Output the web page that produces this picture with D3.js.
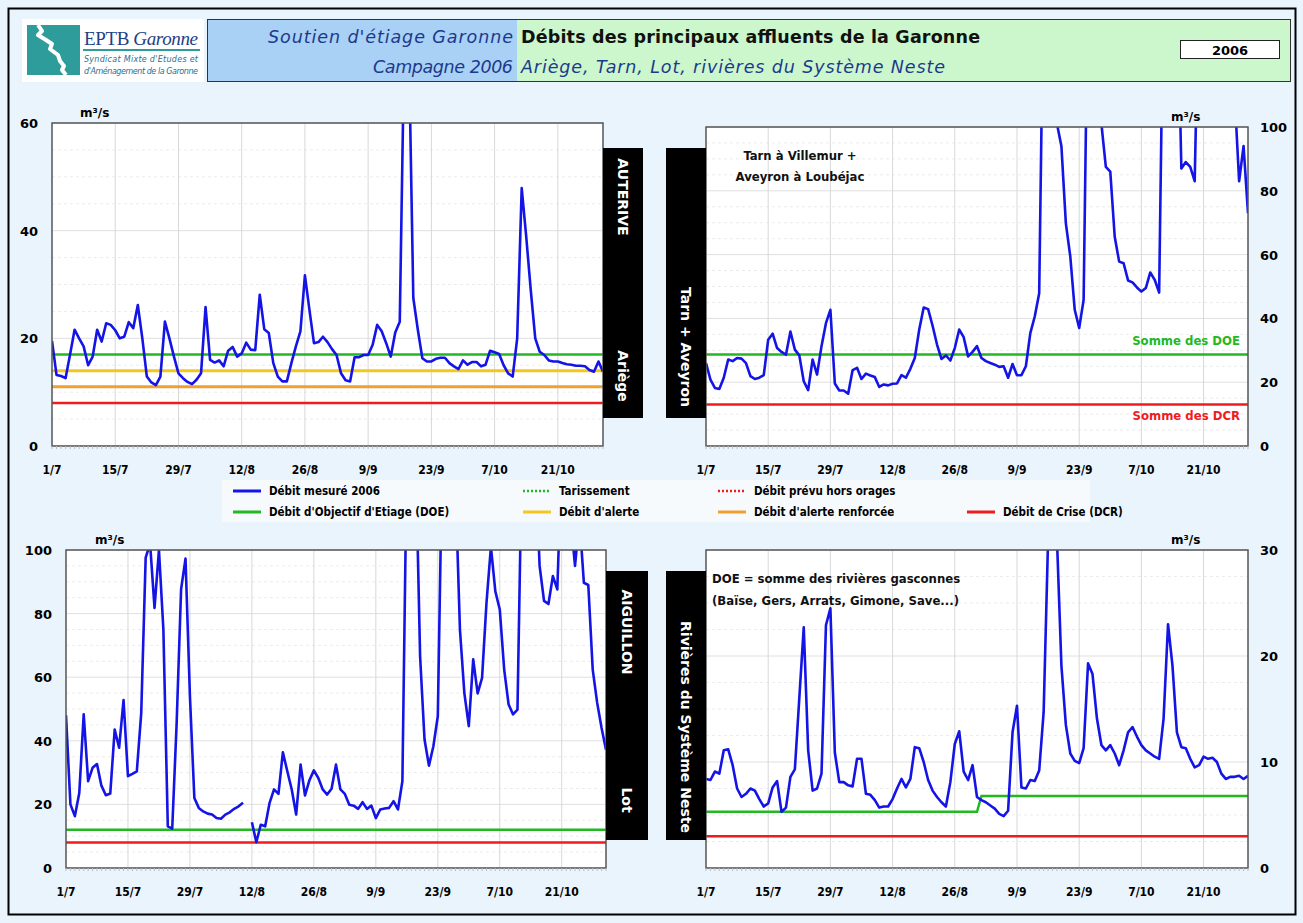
<!DOCTYPE html>
<html>
<head>
<meta charset="utf-8">
<script src="https://cdnjs.cloudflare.com/ajax/libs/d3/7.8.5/d3.min.js"></script>
<style>
  body { margin: 0; background: #eaf4fc; }
  svg { display: block; }
  text { font-family: "DejaVu Sans", Verdana, sans-serif; }
</style>
</head>
<body>
<svg id="chart"></svg>
<script>
// --- data (daily values, 1/7 -> 31/10/2006) ---
const tickDays = [0, 14, 28, 42, 56, 70, 84, 98, 112];
const tickLabels = ["1/7", "15/7", "29/7", "12/8", "26/8", "9/9", "23/9", "7/10", "21/10"];

const ariege = [
  19.5, 13.2, 13.0, 12.6, 17, 21.6, 20, 18.5, 15, 16.6,
  21.6, 19.4, 22.8, 22.5, 21.5, 20, 20.3, 23, 21.9, 26.2,
  20, 12.9, 11.8, 11.3, 12.9, 23.1, 20, 16.6, 13.5, 12.6,
  11.9, 11.5, 12.3, 13.5, 25.8, 16, 15.5, 15.9, 14.8, 17.7,
  18.4, 16.6, 17.2, 19.2, 17.9, 17.8, 28.1, 21.7, 21, 15.4,
  12.9, 12, 12, 15.4, 18.5, 21.3, 31.7, 25.3, 19.1, 19.3,
  20.3, 19.3, 18, 16.9, 13.5, 12.2, 12, 16.5, 16.5, 16.9,
  16.9, 18.8, 22.5, 21.3, 19.1, 16.6, 21.1, 23.1, 75, 75,
  27.5, 21.6, 16.3, 15.7, 15.7, 16.2, 16.4, 16.4, 15.4, 14.8,
  14.3, 15.9, 15.1, 15.6, 15.6, 14.8, 15.1, 17.7, 17.4, 17.1,
  15, 13.5, 12.9, 20, 47.9, 38.9, 29, 20, 17.5, 16.9,
  15.9, 15.7, 15.7, 15.4, 15.2, 15.1, 14.9, 14.9, 14.8, 14.1,
  13.8, 15.7, 13.8
];
const tarn = [
  26, 20.8, 18.2, 17.9, 21.4, 27.1, 26.6, 27.6, 27.4, 26,
  21.9, 21, 21.4, 22.2, 33.3, 35.2, 30.7, 29.5, 28.6, 35.9,
  30.2, 28.4, 20.3, 17.5, 27.1, 22.4, 31.3, 38.5, 42.7, 19.6,
  17.4, 17.4, 16.4, 23.8, 24.5, 21, 22.7, 22.1, 21.6, 18.5,
  19.3, 19, 19.5, 19.6, 22.2, 21.4, 24.2, 27.6, 36.5, 43.4,
  42.9, 37.7, 31.8, 27.3, 28.4, 26.8, 30.7, 36.5, 34.1, 28.1,
  29.5, 31.3, 27.6, 26.6, 26, 25.5, 24.8, 25, 21.4, 25.7,
  22.2, 22.2, 25, 35.4, 40.6, 47.9, 150, 150, 150, 101,
  94, 69.8, 59.4, 42.7, 37, 45.8, 150, 150, 150, 101,
  87.5, 86, 65.6, 57.8, 57.3, 51.9, 51.3, 49.7, 48.4, 49.5,
  54.4, 52.1, 48.1, 150, 150, 150, 150, 87, 89, 87.5,
  83, 150, 150, 150, 150, 150, 150, 150, 150, 110,
  83, 94, 73
];
const lot = [
  48, 20, 16.3, 23.6, 48.3, 27.3, 31.5, 32.7, 25.9, 22.9,
  23.4, 43.5, 37.8, 52.8, 28.9, 29.6, 30.4, 48.8, 97.6, 102,
  81.8, 100, 75, 13.1, 12.4, 45.6, 87.6, 97.3, 54, 22,
  18.9, 17.8, 17.1, 16.8, 15.7, 15.5, 16.8, 17.5, 18.6, 19.4,
  20.5, null, 14.4, 8.1, 13.6, 13.1, 20.5, 24.7, 23.3, 36.4,
  30.4, 24.7, 16.8, 32.5, 22.8, 27.6, 30.7, 28.3, 24.7, 23.1,
  24.9, 32.5, 24.7, 23.3, 19.9, 19.6, 18.6, 20.7, 18.6, 19.6,
  15.7, 18.4, 18.7, 18.9, 21, 18.4, 27.3, 130, 150, 130,
  66.6, 40.4, 32.2, 38.3, 47.7, 130, 150, 150, 120, 75,
  55, 44.6, 65.6, 54.9, 59.8, 83.4, 101, 87, 81.3, 62.4,
  51.4, 48.3, 49.8, 130, 150, 150, 130, 95, 84, 83,
  91.8, 87.6, 130, 150, 110, 95, 110, 89.7, 89, 62.4,
  52, 44, 37.2
];
const neste = [
  8.4, 8.3, 9.1, 8.9, 11.1, 11.2, 9.7, 7.5, 6.7, 7,
  7.5, 7.3, 6.5, 5.8, 6.1, 7.6, 8.2, 5.3, 5.7, 8.6,
  9.3, 16, 22.7, 11.1, 7.3, 7.5, 8.9, 22.9, 24.5, 10.9,
  8.1, 8.1, 7.8, 7.7, 10.3, 10.3, 7, 6.9, 6.4, 5.7,
  5.8, 5.8, 6.5, 7.5, 8.4, 7.6, 8.4, 11.4, 11.3, 10,
  8.3, 7.3, 6.7, 6.2, 5.8, 8.1, 11.7, 12.9, 9.1, 8.3,
  9.7, 6.7, 6.4, 6.2, 5.9, 5.6, 5.1, 4.9, 5.4, 12.8,
  15.3, 7.6, 7.5, 8.3, 8.2, 9.2, 14.7, 31, 40, 31,
  19.1, 13.5, 10.8, 10.1, 9.9, 11.3, 19.3, 18.3, 14.1, 11.6,
  11.1, 11.6, 10.8, 9.7, 11.1, 12.8, 13.3, 12.4, 11.6, 11.1,
  10.8, 10.5, 10.3, 14.1, 23, 19.1, 12.8, 11.4, 11.3, 10.3,
  9.5, 9.7, 10.5, 10.3, 10.4, 10, 8.9, 8.4, 8.6, 8.6,
  8.7, 8.4, 8.7
];

// thresholds
const ariegeThresholds = [
  { key: "doe", value: 17 },
  { key: "alerte", value: 14 },
  { key: "renforcee", value: 11 },
  { key: "dcr", value: 8 }
];
const tarnThresholds = [{ key: "doe", value: 28.7 }, { key: "dcr", value: 13 }];
const lotThresholds = [{ key: "doe", value: 12 }, { key: "dcr", value: 8 }];
const nesteThresholds = [{ key: "dcr", value: 3.0 }];
const nesteDoeDays = [0, 61, 62, 122];
const nesteDoeValues = [5.3, 5.3, 6.8, 6.8];

const legendRow1 = [
  { key: "mesure", label: "Débit mesuré 2006" },
  { key: "tarissement", label: "Tarissement" },
  { key: "orages", label: "Débit prévu hors orages" }
];
const legendRow2 = [
  { key: "doe", label: "Débit d'Objectif d'Etiage (DOE)" },
  { key: "alerte", label: "Débit d'alerte" },
  { key: "renforcee", label: "Débit d'alerte renforcée" },
  { key: "dcr", label: "Débit de Crise (DCR)" }
];

const colors = {
  mesure: "#1414e6", doe: "#22b822", alerte: "#f5c71a", renforcee: "#f0a030",
  dcr: "#ee1c1c", tarissement: "#22b822", orages: "#ee1c1c"
};

// --- layout ---
const W = 1303, H = 923;
const svg = d3.select("#chart").attr("width", W).attr("height", H);

svg.append("rect").attr("x", 0).attr("y", 0).attr("width", W).attr("height", H).attr("fill", "#eaf4fc");
svg.append("rect").attr("x", 8.5).attr("y", 8.5).attr("width", 1287).attr("height", 906)
  .attr("fill", "none").attr("stroke", "#000").attr("stroke-width", 2);

// header
const logo = svg.append("g");
logo.append("rect").attr("x", 22).attr("y", 19).attr("width", 182).attr("height", 63).attr("fill", "#fff");
logo.append("rect").attr("x", 27).attr("y", 25).attr("width", 53).attr("height", 50).attr("fill", "#2f9c9c");
logo.append("path")
  .attr("d", "M38,25 L42,31 L38,35 L46,40 L52,44 L50,49 L58,55 L60,61 L64,66 L62,70 L66,75")
  .attr("fill", "none").attr("stroke", "#fff").attr("stroke-width", 4).attr("stroke-linejoin", "round");
logo.append("text").attr("x", 84).attr("y", 45).attr("textLength", 114)
  .style("font-family", "'Liberation Serif', serif").style("font-size", "19px").attr("fill", "#223f85")
  .text("EPTB ")
  .append("tspan").style("font-style", "italic").text("Garonne");
logo.append("rect").attr("x", 83).attr("y", 49).attr("width", 117).attr("height", 2).attr("fill", "#2f9c9c");
logo.append("text").attr("x", 84).attr("y", 62).attr("textLength", 114)
  .style("font-size", "8px").style("font-style", "italic").attr("fill", "#2a6f8f")
  .text("Syndicat Mixte d'Etudes et");
logo.append("text").attr("x", 84).attr("y", 74).attr("textLength", 114)
  .style("font-size", "8px").style("font-style", "italic").attr("fill", "#2a6f8f")
  .text("d'Aménagement de la Garonne");

svg.append("rect").attr("x", 207.5).attr("y", 19.5).attr("width", 309).attr("height", 62)
  .attr("fill", "#a9d0f5").attr("stroke", "#333");
svg.append("rect").attr("x", 516.5).attr("y", 19.5).attr("width", 774).attr("height", 62)
  .attr("fill", "#ccf7cc").attr("stroke", "#333");
svg.append("line").attr("x1", 516.5).attr("x2", 516.5).attr("y1", 20).attr("y2", 81)
  .attr("stroke", "#a9d0f5");

svg.append("text").attr("x", 268).attr("y", 43).attr("textLength", 245)
  .style("font-size", "17.5px").style("font-style", "italic").attr("fill", "#1c3a8c")
  .text("Soutien d'étiage Garonne");
svg.append("text").attr("x", 373).attr("y", 73).attr("textLength", 140)
  .style("font-size", "17.5px").style("font-style", "italic").attr("fill", "#1c3a8c")
  .text("Campagne 2006");
svg.append("text").attr("x", 521).attr("y", 43).attr("textLength", 459)
  .style("font-size", "17.5px").style("font-weight", "bold").attr("fill", "#111")
  .text("Débits des principaux affluents de la Garonne");
svg.append("text").attr("x", 521).attr("y", 73).attr("textLength", 424)
  .style("font-size", "17.5px").style("font-style", "italic").attr("fill", "#1c3a8c")
  .text("Ariège, Tarn, Lot, rivières du Système Neste");
svg.append("rect").attr("x", 1180.5).attr("y", 40.5).attr("width", 99).attr("height", 18)
  .attr("fill", "#fff").attr("stroke", "#222");
svg.append("text").attr("x", 1230).attr("y", 54.5).attr("text-anchor", "middle")
  .style("font-size", "13px").style("font-weight", "bold").text("2006");

// --- panels ---
function drawPanel(cfg) {
  const g = svg.append("g");
  const x = d3.scaleLinear().domain([0, 122]).range([cfg.x0, cfg.x1]);
  const y = d3.scaleLinear().domain([0, cfg.ymax]).range([cfg.y1, cfg.y0]);
  const clipId = "clip" + cfg.id;

  svg.append("clipPath").attr("id", clipId)
    .append("rect").attr("x", cfg.x0).attr("y", cfg.y0)
    .attr("width", cfg.x1 - cfg.x0).attr("height", cfg.y1 - cfg.y0);

  g.append("rect").attr("x", cfg.x0).attr("y", cfg.y0)
    .attr("width", cfg.x1 - cfg.x0).attr("height", cfg.y1 - cfg.y0).attr("fill", "#fff");

  // grid
  const minor = d3.range(0, cfg.ymax + 0.001, cfg.ystep / 4).filter(v => v % cfg.ystep !== 0);
  g.selectAll(".hminor").data(minor).join("line")
    .attr("x1", cfg.x0).attr("x2", cfg.x1).attr("y1", d => y(d)).attr("y2", d => y(d))
    .attr("stroke", "#ececec").attr("stroke-dasharray", "3,3");
  g.selectAll(".hmajor").data(y.ticks(cfg.ymax / cfg.ystep)).join("line")
    .attr("x1", cfg.x0).attr("x2", cfg.x1).attr("y1", d => y(d)).attr("y2", d => y(d))
    .attr("stroke", "#e0e0e0");
  g.selectAll(".vgrid").data(tickDays.slice(1)).join("line")
    .attr("x1", d => x(d)).attr("x2", d => x(d)).attr("y1", cfg.y0).attr("y2", cfg.y1)
    .attr("stroke", "#d8d8d8");

  // thresholds
  g.selectAll(".thr").data(cfg.thresholds).join("line")
    .attr("x1", cfg.x0).attr("x2", cfg.x1)
    .attr("y1", d => y(d.value)).attr("y2", d => y(d.value))
    .attr("stroke", d => colors[d.key])
    .attr("stroke-width", d => (d.key === "alerte" || d.key === "renforcee") ? 3 : 2.5);

  if (cfg.doeSteps) {
    const pts = cfg.doeSteps.days.map((d, i) => [d, cfg.doeSteps.values[i]]);
    g.append("path").datum(pts)
      .attr("d", d3.line().x(d => x(d[0])).y(d => y(d[1])))
      .attr("fill", "none").attr("stroke", colors.doe).attr("stroke-width", 2.5);
  }

  // measured flow
  const line = d3.line()
    .defined(d => d != null)
    .x((d, i) => x(i))
    .y(d => y(d));
  g.append("path").datum(cfg.values)
    .attr("clip-path", `url(#${clipId})`)
    .attr("d", line)
    .attr("fill", "none").attr("stroke", colors.mesure)
    .attr("stroke-width", 2.6).attr("stroke-linejoin", "round");

  // frame
  g.append("rect").attr("x", cfg.x0).attr("y", cfg.y0)
    .attr("width", cfg.x1 - cfg.x0).attr("height", cfg.y1 - cfg.y0)
    .attr("fill", "none").attr("stroke", "#555").attr("stroke-width", 1.5);

  // day ticks
  g.selectAll(".dtick").data(d3.range(0, 123)).join("line")
    .attr("x1", d => x(d)).attr("x2", d => x(d)).attr("y1", cfg.y1).attr("y2", cfg.y1 + 3)
    .attr("stroke", "#bbb");

  // x labels
  g.selectAll(".xl").data(tickDays).join("text")
    .attr("x", d => x(d)).attr("y", cfg.y1 + 28).attr("text-anchor", "middle")
    .style("font-family", "'DejaVu Sans Condensed', 'DejaVu Sans', sans-serif")
    .style("font-size", "12px").style("font-weight", "bold")
    .text((d, i) => tickLabels[i]);

  // y labels
  const right = cfg.axis === "right";
  g.selectAll(".yl").data(y.ticks(cfg.ymax / cfg.ystep)).join("text")
    .attr("x", right ? cfg.x1 + 12 : cfg.x0 - 14)
    .attr("y", d => y(d) + 5)
    .attr("text-anchor", right ? "start" : "end")
    .style("font-size", "13px").style("font-weight", "bold")
    .text(d => d);

  g.append("text").attr("x", cfg.unitX).attr("y", cfg.y0 - 6)
    .style("font-size", "12px").style("font-weight", "bold").text("m³/s");

  // black label box
  const b = cfg.box;
  g.append("rect").attr("x", b.x).attr("y", b.y0).attr("width", b.w).attr("height", b.y1 - b.y0).attr("fill", "#000");
  b.labels.forEach(l => {
    g.append("text").attr("transform", `translate(${b.x + b.w / 2},${l.cy}) rotate(90)`)
      .attr("text-anchor", "middle").attr("dy", "0.36em")
      .style("font-size", "14px").style("font-weight", "bold").attr("fill", "#fff")
      .text(l.text);
  });

  (cfg.notes || []).forEach(n => {
    g.append("text").attr("x", n.x).attr("y", n.y).attr("text-anchor", n.anchor || "start")
      .style("font-family", "'DejaVu Sans Condensed', 'DejaVu Sans', sans-serif")
      .style("font-size", "13px").style("font-weight", "bold")
      .attr("fill", n.color || "#111").text(n.text);
  });
}

drawPanel({
  id: 1, x0: 52, x1: 603, y0: 123, y1: 446, ymax: 60, ystep: 20, axis: "left",
  values: ariege, thresholds: ariegeThresholds, unitX: 80,
  box: { x: 603, w: 40, y0: 148, y1: 418, labels: [{ text: "AUTERIVE", cy: 197 }, { text: "Ariège", cy: 376 }] }
});
drawPanel({
  id: 2, x0: 706, x1: 1248, y0: 127, y1: 446, ymax: 100, ystep: 20, axis: "right",
  values: tarn, thresholds: tarnThresholds, unitX: 1171,
  box: { x: 666, w: 40, y0: 148, y1: 418, labels: [{ text: "Tarn + Aveyron", cy: 347 }] },
  notes: [
    { x: 800, y: 160, anchor: "middle", text: "Tarn à Villemur +" },
    { x: 800, y: 181, anchor: "middle", text: "Aveyron à Loubéjac" },
    { x: 1240, y: 345, anchor: "end", text: "Somme des DOE", color: "#22b822" },
    { x: 1240, y: 420, anchor: "end", text: "Somme des DCR", color: "#ee1c1c" }
  ]
});
drawPanel({
  id: 3, x0: 66, x1: 606, y0: 550, y1: 868, ymax: 100, ystep: 20, axis: "left",
  values: lot, thresholds: lotThresholds, unitX: 95,
  box: { x: 606, w: 42, y0: 571, y1: 840, labels: [{ text: "AIGUILLON", cy: 632 }, { text: "Lot", cy: 800 }] }
});
drawPanel({
  id: 4, x0: 706, x1: 1248, y0: 550, y1: 868, ymax: 30, ystep: 10, axis: "right",
  values: neste, thresholds: nesteThresholds, unitX: 1171,
  doeSteps: { days: nesteDoeDays, values: nesteDoeValues },
  box: { x: 666, w: 40, y0: 571, y1: 840, labels: [{ text: "Rivières du Système Neste", cy: 727 }] },
  notes: [
    { x: 712, y: 583, text: "DOE = somme des rivières gasconnes" },
    { x: 712, y: 605, text: "(Baïse, Gers, Arrats, Gimone, Save...)" }
  ]
});

// --- legend ---
const leg = svg.append("g");
leg.append("rect").attr("x", 222).attr("y", 480).attr("width", 868).attr("height", 42).attr("fill", "#f6fafd");
const colX = [233, 523, 718, 967];
function legendRow(items, yy) {
  items.forEach((it, i) => {
    const dotted = it.key === "tarissement" || it.key === "orages";
    leg.append("line").attr("x1", colX[i]).attr("x2", colX[i] + 28).attr("y1", yy).attr("y2", yy)
      .attr("stroke", colors[it.key]).attr("stroke-width", dotted ? 2.5 : 3)
      .attr("stroke-dasharray", dotted ? "2,2" : null);
    leg.append("text").attr("x", colX[i] + 36).attr("y", yy + 4)
      .style("font-family", "'DejaVu Sans Condensed', 'DejaVu Sans', sans-serif")
      .style("font-size", "11.5px").style("font-weight", "bold").text(it.label);
  });
}
legendRow(legendRow1, 491);
legendRow(legendRow2, 512);
</script>
</body>
</html>
